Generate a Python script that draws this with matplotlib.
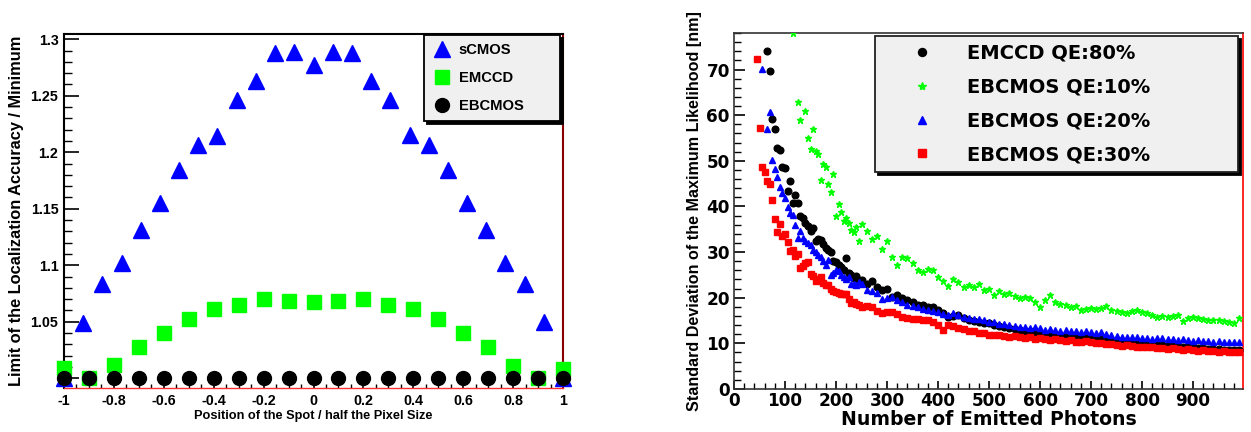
import numpy as np
import matplotlib
matplotlib.use('Agg')
import matplotlib.pyplot as plt
from matplotlib.ticker import MultipleLocator, FixedLocator, FuncFormatter

# ---------------- Left panel data ----------------
scmos_pos = [-1.000, -0.923, -0.846, -0.769, -0.692, -0.615, -0.538, -0.462, -0.385,
             -0.308, -0.231, -0.154, -0.077, 0.000, 0.077, 0.154, 0.231, 0.308,
             0.385, 0.462, 0.538, 0.615, 0.692, 0.769, 0.846, 0.923, 1.000]
scmos_vals = [1.000, 1.049, 1.083, 1.102, 1.131, 1.155, 1.184, 1.206, 1.214,
              1.246, 1.263, 1.288, 1.289, 1.277, 1.289, 1.288, 1.263, 1.246,
              1.215, 1.206, 1.184, 1.155, 1.131, 1.102, 1.083, 1.050, 1.000]
spot_pos = [-1.0, -0.9, -0.8, -0.7, -0.6, -0.5, -0.4, -0.3, -0.2, -0.1, 0.0,
            0.1, 0.2, 0.3, 0.4, 0.5, 0.6, 0.7, 0.8, 0.9, 1.0]
emccd_vals = [1.009, 1.000, 1.012, 1.028, 1.040, 1.052, 1.061, 1.065, 1.0705, 1.068, 1.067,
              1.068, 1.0705, 1.065, 1.061, 1.052, 1.040, 1.028, 1.011, 1.000, 1.008]
ebcmos_vals = [1.000, 1.000, 1.000, 1.000, 1.000, 1.000, 1.000, 1.000, 1.000, 1.000, 1.000,
               1.000, 1.000, 1.000, 1.000, 1.000, 1.000, 1.000, 1.000, 1.000, 1.000]
left_labels = ['sCMOS', 'EMCCD', 'EBCMOS']

# ---------------- Right panel data ----------------
photons_lo = [45, 50, 55, 60, 65, 70, 75, 80, 85, 90, 95, 100, 105, 110, 115, 120, 125, 130,
              135, 140, 145, 150, 155, 160, 165, 170, 175, 180, 185, 190, 195, 200, 205, 210,
              215, 220, 225, 230, 235, 240, 245]
photons_hi = [250, 260, 270, 280, 290, 300, 310, 320, 330, 340, 350, 360, 370, 380, 390,
              400, 410, 420, 430, 440, 450, 460, 470, 480, 490, 500, 510, 520, 530, 540,
              550, 560, 570, 580, 590, 600, 610, 620, 630, 640, 650, 660, 670, 680, 690,
              700, 710, 720, 730, 740, 750, 760, 770, 780, 790, 800, 810, 820, 830, 840,
              850, 860, 870, 880, 890, 900, 910, 920, 930, 940, 950, 960, 970, 980, 990]

emccd80_lo = [None, None, None, None, 74.1, 69.7, 59.2, 56.9, 52.8, 52.3, 48.7, 48.4, 43.4, 45.5,
              40.8, 42.4, 40.7, 37.9, 37.4, 36.4, 35.8, 34.6, 35.3, 32.5, 32.8, 32.6, 31.8, 31.0,
              30.5, 30.0, 28.0, 27.8, 27.2, 26.8, 26.0, 28.8, 25.4, 24.9, 24.3, 24.8, 23.9]
emccd80_hi = [23.9, 23.1, 23.6, 22.3, 21.7, 22.0, 20.2, 20.6, 20.0, 19.5, 19.1, 18.4, 18.4, 18.0,
              17.9, 17.2, 16.6, 15.8, 16.0, 16.2, 15.6, 15.2, 14.9, 14.6, 14.4, 14.4, 14.1, 13.8,
              13.6, 13.4, 13.2, 12.9, 12.8, 12.6, 12.4, 12.2, 12.1, 12.0, 11.9, 11.8, 11.7, 11.6,
              11.6, 11.5, 11.4, 11.3, 11.1, 11.0, 10.9, 10.8, 10.7, 10.5, 10.4, 10.4, 10.2, 10.1,
              10.0, 9.8, 9.7, 9.6, 9.5, 9.4, 9.3, 9.3, 9.2, 9.1, 9.0, 8.9, 8.8, 8.8, 8.7, 8.6,
              8.6, 8.5, 8.5]

ebcmos10_lo = [None, None, None, None, None, None, None, None, None, None, None, None, None, None,
               77.9, None, 62.9, 58.9, None, 60.9, 55.1, 52.5, 56.9, 52.2, 51.4, 45.9, 49.2, 48.7,
               45.0, 43.2, 47.1, 37.9, 40.5, 38.8, 36.8, 37.5, 36.3, 34.8, 34.3, 35.5, 32.5]
ebcmos10_hi = [36.1, 34.6, 32.8, 33.5, 30.6, 32.4, 29.0, 27.2, 29.0, 28.7, 27.5, 26.1, 25.7, 26.4,
               26.0, 24.6, 23.6, 22.6, 24.0, 23.5, 22.4, 22.8, 22.3, 23.1, 21.7, 21.9, 20.6, 21.5,
               20.8, 21.0, 20.4, 19.9, 20.1, 19.9, 19.1, 18.0, 19.5, 20.6, 19.1, 18.6, 18.4, 17.9,
               18.1, 17.4, 17.6, 17.7, 17.6, 17.8, 18.2, 17.4, 17.1, 16.9, 16.7, 17.0, 17.3, 16.9,
               16.6, 16.2, 15.8, 16.0, 15.8, 15.9, 16.2, 15.0, 15.6, 15.7, 15.5, 15.3, 15.1, 15.2,
               15.1, 14.9, 14.7, 14.5, 15.5]

ebcmos20_lo = [None, None, 70.1, None, 56.9, 60.7, 50.1, 48.3, 46.5, 44.3, 43.0, 41.8, 39.9, 38.5,
               38.2, 36.0, 33.0, 34.6, 33.0, 32.5, 31.9, 31.5, 30.4, 30.0, 29.3, 29.0, 28.0, 27.2,
               28.2, 25.0, 25.5, 26.1, 25.8, 25.0, 24.6, 24.2, 24.5, 23.1, 23.1, 22.8, 23.5]
ebcmos20_hi = [23.0, 21.8, 21.5, 21.1, 19.8, 20.0, 20.2, 19.5, 19.1, 18.4, 18.2, 17.9, 17.6, 17.3,
               17.0, 16.9, 16.5, 16.2, 16.6, 16.2, 15.8, 15.6, 15.3, 15.4, 15.1, 14.7, 14.6, 14.3,
               14.2, 14.0, 13.9, 13.5, 13.6, 13.3, 13.5, 13.3, 13.0, 13.2, 12.9, 12.8, 13.0, 12.6,
               12.8, 12.4, 12.7, 12.5, 12.2, 12.4, 12.0, 11.9, 11.6, 11.5, 11.4, 11.3, 11.4, 11.1,
               11.2, 11.0, 11.2, 11.1, 10.9, 11.0, 10.8, 11.0, 10.7, 10.6, 10.8, 10.5, 10.6, 10.4,
               10.5, 10.3, 10.4, 10.2, 10.3]

ebcmos30_lo = [72.3, 57.2, 48.7, 47.6, 45.5, 45.0, 41.5, 37.2, 34.5, 36.1, 33.6, 34.0, 32.3, 30.2,
               30.5, 29.1, 29.5, 26.6, 26.9, 27.5, 27.8, 25.1, 24.8, 23.7, 24.0, 24.6, 23.2, 22.8,
               22.8, 21.9, 21.5, 21.3, 21.0, 20.8, 20.9, 20.8, 19.8, 18.8, 19.0, 18.6, 18.3]
ebcmos30_hi = [18.0, 18.2, 18.0, 17.0, 16.6, 16.8, 16.9, 16.4, 15.8, 15.5, 15.3, 15.4, 15.1, 15.1,
               14.6, 14.0, 12.9, 14.0, 13.7, 13.3, 13.2, 12.8, 12.6, 12.2, 12.3, 11.9, 11.8, 11.9,
               11.7, 11.5, 11.6, 11.3, 11.2, 11.3, 11.0, 11.1, 10.9, 10.8, 11.0, 10.7, 10.6, 10.7,
               10.4, 10.2, 10.5, 10.4, 10.1, 10.0, 9.9, 9.8, 9.6, 9.5, 9.6, 9.4, 9.3, 9.3, 9.1,
               9.2, 9.0, 8.9, 8.8, 8.9, 8.7, 8.6, 8.7, 8.5, 8.4, 8.5, 8.3, 8.4, 8.2, 8.3, 8.1,
               8.2, 8.1]

right_labels = ['EMCCD QE:80%', 'EBCMOS QE:10%', 'EBCMOS QE:20%', 'EBCMOS QE:30%']


def series(lo, hi):
    x = np.array(photons_lo + photons_hi, dtype=float)
    y = np.array([np.nan if v is None else v for v in lo + hi], dtype=float)
    return x, y


# ---------------- Figure ----------------
W, H = 1251, 432
fig = plt.figure(figsize=(W / 100, H / 100), dpi=100)
fig.patch.set_facecolor('white')

LEFT_FONT = 'Liberation Sans'
RIGHT_FONT = 'DejaVu Sans'

# ---- Left axes ----
ax1 = fig.add_axes([64 / W, (H - 388) / H, 499 / W, 354 / H])
ax1.plot(scmos_pos, scmos_vals, ls='none', marker='^', ms=11, color='#0000ff',
         mec='#0000ff', label=left_labels[0], clip_on=False, zorder=3)
ax1.plot(spot_pos, emccd_vals, ls='none', marker='s', ms=10, color='#00ff00',
         mec='#00ff00', label=left_labels[1], clip_on=False, zorder=4)
ax1.plot(spot_pos, ebcmos_vals, ls='none', marker='o', ms=10, color='black',
         mec='black', label=left_labels[2], clip_on=False, zorder=5)
ax1.set_xlim(-1, 1)
ax1.set_ylim(0.9913, 1.3047)
ax1.xaxis.set_major_locator(MultipleLocator(0.2))
ax1.xaxis.set_minor_locator(MultipleLocator(0.05))
ax1.yaxis.set_major_locator(FixedLocator([1.0, 1.05, 1.1, 1.15, 1.2, 1.25, 1.3]))
ax1.yaxis.set_minor_locator(MultipleLocator(0.01))
ax1.yaxis.set_major_formatter(FuncFormatter(lambda v, p: '' if abs(v - 1.0) < 1e-6 else '%g' % round(v, 2)))
ax1.xaxis.set_major_formatter(FuncFormatter(lambda v, p: '%g' % round(v, 2)))
ax1.tick_params(axis='both', which='both', direction='in', top=False, right=False)
ax1.tick_params(axis='y', which='major', length=11, width=1.2, pad=4)
ax1.tick_params(axis='y', which='minor', length=6, width=1)
ax1.tick_params(axis='x', which='major', length=6, width=1.2, pad=4)
ax1.tick_params(axis='x', which='minor', length=3, width=1)
for lab in ax1.get_xticklabels() + ax1.get_yticklabels():
    lab.set_fontfamily(LEFT_FONT)
    lab.set_fontweight('bold')
    lab.set_fontsize(10.3)
ax1.spines['left'].set_linewidth(1.5)
ax1.spines['top'].set_linewidth(1.5)
ax1.spines['bottom'].set_color('#ff3030')
ax1.spines['bottom'].set_linewidth(1.0)
ax1.spines['right'].set_color('#8b0000')
ax1.spines['right'].set_linewidth(1.5)
ax1.set_xlabel('Position of the Spot / half the Pixel Size', fontfamily=LEFT_FONT,
               fontweight='bold', fontsize=9.2, labelpad=2)
ax1.set_ylabel('Limit of the Localization Accuracy / Minimum', fontfamily=LEFT_FONT,
               fontweight='bold', fontsize=11.8, labelpad=5)

leg1 = ax1.legend(loc='upper left', bbox_to_anchor=(0.7214, 0.76, 0.2726, 0.237),
                  mode='expand', borderaxespad=0, numpoints=1, fancybox=False,
                  shadow={'color': 'black', 'alpha': 1}, facecolor='#f0f0f0',
                  edgecolor='black', framealpha=1, handlelength=1.3,
                  handletextpad=0.5, labelspacing=0.95, borderpad=0.55,
                  prop={'family': LEFT_FONT, 'weight': 'bold', 'size': 10.6})
leg1.get_frame().set_linewidth(1.3)

# ---- Right axes ----
ax2 = fig.add_axes([734 / W, (H - 389) / H, 509 / W, 356 / H])
x, y = series(emccd80_lo, emccd80_hi)
ax2.plot(x, y, ls='none', marker='o', ms=4.8, color='black', mec='black',
         label=right_labels[0], zorder=3)
x, y = series(ebcmos10_lo, ebcmos10_hi)
ax2.plot(x, y, ls='none', marker='*', ms=5, color='#00ff00', mec='#00ff00',
         label=right_labels[1], zorder=4)
x, y = series(ebcmos20_lo, ebcmos20_hi)
ax2.plot(x, y, ls='none', marker='^', ms=5, color='#0000ff', mec='#0000ff',
         label=right_labels[2], zorder=5)
x, y = series(ebcmos30_lo, ebcmos30_hi)
ax2.plot(x, y, ls='none', marker='s', ms=4.6, color='#ff0000', mec='#ff0000',
         label=right_labels[3], zorder=6)
ax2.set_xlim(0, 998)
ax2.set_ylim(0, 78)
ax2.xaxis.set_major_locator(FixedLocator([0, 100, 200, 300, 400, 500, 600, 700, 800, 900]))
ax2.xaxis.set_minor_locator(MultipleLocator(20))
ax2.yaxis.set_major_locator(MultipleLocator(10))
ax2.yaxis.set_minor_locator(MultipleLocator(2))
ax2.tick_params(axis='both', which='both', direction='in', top=False, right=False)
ax2.tick_params(axis='y', which='major', length=8, width=1.2, pad=3)
ax2.tick_params(axis='y', which='minor', length=5, width=1)
ax2.tick_params(axis='x', which='major', length=6, width=1.2, pad=2)
ax2.tick_params(axis='x', which='minor', length=4, width=1)
for lab in ax2.get_xticklabels() + ax2.get_yticklabels():
    lab.set_fontfamily(RIGHT_FONT)
    lab.set_fontweight('bold')
    lab.set_fontsize(12.2)
for s in ['left', 'top', 'bottom']:
    ax2.spines[s].set_color('#333333')
    ax2.spines[s].set_linewidth(1.2)
ax2.spines['right'].set_color('#ff0000')
ax2.spines['right'].set_linewidth(1.2)
ax2.set_xlabel('Number of Emitted Photons', fontfamily=RIGHT_FONT, fontweight='bold',
               fontsize=13.6, labelpad=0)
ax2.set_ylabel('Standard Deviation of the Maximum Likelihood [nm]', fontfamily=LEFT_FONT,
               fontweight='bold', fontsize=11.6, labelpad=3)

leg2 = ax2.legend(loc='upper left', bbox_to_anchor=(0.277, 0.6096, 0.713, 0.382),
                  mode='expand', borderaxespad=0, numpoints=1, fancybox=False,
                  shadow={'color': 'black', 'alpha': 1}, facecolor='#f0f0f0',
                  edgecolor='#222222', framealpha=1, handlelength=4.0,
                  handletextpad=0.35, labelspacing=0.76, borderpad=0.4,
                  markerscale=1.2,
                  prop={'family': RIGHT_FONT, 'weight': 'bold', 'size': 14})
leg2.get_frame().set_linewidth(1.3)

fig.savefig('out.png', dpi=100, facecolor='white')
